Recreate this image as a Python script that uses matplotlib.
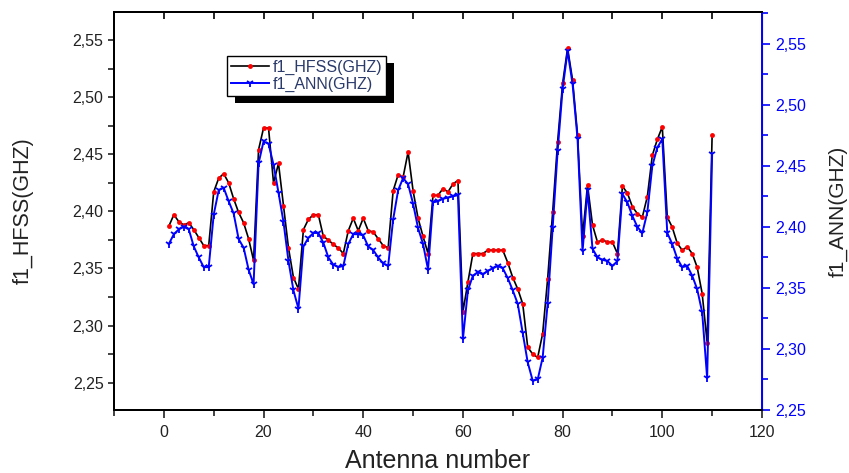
import numpy as np
import matplotlib
matplotlib.use('Agg')
import matplotlib.pyplot as plt
from matplotlib.ticker import MultipleLocator, FuncFormatter
from matplotlib.patches import Rectangle

plt.rcParams['font.family'] = ['Liberation Sans', 'DejaVu Sans']

antenna = np.arange(1, 111)

f1_hfss = [2.387, 2.397, 2.391, 2.388, 2.390, 2.384, 2.377, 2.370, 2.370, 2.417,
           2.429, 2.433, 2.425, 2.411, 2.399, 2.390, 2.376, 2.357, 2.454, 2.473,
           2.473, 2.425, 2.442, 2.405, 2.368, 2.342, 2.332, 2.384, 2.393, 2.397,
           2.397, 2.378, 2.375, 2.371, 2.368, 2.363, 2.383, 2.394, 2.383, 2.394,
           2.383, 2.382, 2.376, 2.370, 2.368, 2.418, 2.432, 2.430, 2.452, 2.418,
           2.394, 2.378, 2.363, 2.414, 2.414, 2.420, 2.417, 2.424, 2.427, 2.312,
           2.338, 2.363, 2.363, 2.363, 2.366, 2.366, 2.366, 2.366, 2.355, 2.342,
           2.332, 2.319, 2.281, 2.275, 2.272, 2.293, 2.341, 2.399, 2.461, 2.512,
           2.543, 2.515, 2.467, 2.378, 2.423, 2.388, 2.373, 2.375, 2.373, 2.373,
           2.363, 2.422, 2.416, 2.404, 2.398, 2.395, 2.413, 2.449, 2.463, 2.474,
           2.395, 2.386, 2.372, 2.366, 2.369, 2.363, 2.351, 2.328, 2.285, 2.467]

f1_ann = [2.386, 2.394, 2.398, 2.400, 2.398, 2.384, 2.375, 2.367, 2.367, 2.410,
          2.430, 2.432, 2.421, 2.411, 2.390, 2.383, 2.365, 2.353, 2.452, 2.470,
          2.468, 2.451, 2.428, 2.404, 2.372, 2.348, 2.333, 2.384, 2.391, 2.395,
          2.395, 2.387, 2.375, 2.369, 2.367, 2.368, 2.386, 2.394, 2.394, 2.393,
          2.384, 2.381, 2.375, 2.370, 2.368, 2.406, 2.430, 2.440, 2.435, 2.419,
          2.399, 2.386, 2.365, 2.420, 2.421, 2.423, 2.424, 2.425, 2.426, 2.308,
          2.348, 2.360, 2.363, 2.361, 2.364, 2.366, 2.368, 2.366, 2.358, 2.348,
          2.337, 2.313, 2.289, 2.274, 2.275, 2.293, 2.337, 2.399, 2.462, 2.513,
          2.544, 2.517, 2.472, 2.380, 2.430, 2.382, 2.375, 2.373, 2.372, 2.368,
          2.372, 2.427, 2.420, 2.409, 2.400, 2.395, 2.412, 2.450, 2.465, 2.472,
          2.395, 2.386, 2.374, 2.367, 2.368, 2.360, 2.349, 2.330, 2.276, 2.460]

comma = FuncFormatter(lambda v, p: f"{v:.2f}".replace('.', ','))

fig = plt.figure(figsize=(8.49, 4.73), dpi=100)
ax = fig.add_axes([0.1343, 0.1332, 0.7632, 0.8414])
ax2 = ax.twinx()

l1, = ax.plot(antenna, f1_hfss, color='black', lw=1.2, marker='o', ms=3.5,
              mfc='red', mec='red', mew=0, label='f1_HFSS(GHZ)')
l2, = ax2.plot(antenna, f1_ann, color='blue', lw=1.4, marker='1', ms=6,
               mew=1.3, label='f1_ANN(GHZ)')

ax.set_xlim(-10, 120)
ax.set_ylim(2.226, 2.5746)
ax2.set_ylim(2.25, 2.576)

ax.xaxis.set_major_locator(MultipleLocator(20))
ax.xaxis.set_minor_locator(MultipleLocator(10))
ax.yaxis.set_major_locator(MultipleLocator(0.05))
ax.yaxis.set_minor_locator(MultipleLocator(0.025))
ax.yaxis.set_major_formatter(comma)
ax2.yaxis.set_major_locator(MultipleLocator(0.05))
ax2.yaxis.set_minor_locator(MultipleLocator(0.025))
ax2.yaxis.set_major_formatter(comma)

ax.tick_params(axis='x', which='both', direction='out', labelsize=11.5,
               colors='#222222', width=1.2, pad=5)
ax.tick_params(axis='x', which='major', length=6)
ax.tick_params(axis='x', which='minor', length=4)
ax.tick_params(axis='y', which='both', direction='out', labelsize=11.5,
               colors='#222222', width=1.2, length=4)
ax2.tick_params(axis='y', which='both', direction='out', labelsize=11.5,
                colors='blue', width=1.2)
ax2.tick_params(axis='y', which='major', length=6)
ax2.tick_params(axis='y', which='minor', length=4)

# top ticks point inward in the original
sec = ax.secondary_xaxis('top')
sec.xaxis.set_major_locator(MultipleLocator(10))
sec.tick_params(axis='x', which='both', direction='in', length=5, width=1.2,
                labeltop=False)
sec.spines['top'].set_linewidth(1.4)

for s in ['left', 'bottom', 'top']:
    ax.spines[s].set_linewidth(1.4)
    ax2.spines[s].set_linewidth(1.4)
ax2.spines['right'].set_color('blue')
ax2.spines['right'].set_linewidth(1.4)

ax.set_xlabel('Antenna number', fontsize=18, color='#222222', labelpad=6)
ax.set_ylabel('f1_HFSS(GHZ)', fontsize=15.5, color='#222222', labelpad=28)
ax2.set_ylabel('f1_ANN(GHZ)', fontsize=15, color='#222222', labelpad=16)

leg = ax2.legend(handles=[l1, l2], loc='upper left', bbox_to_anchor=(0.174, 0.89),
                 fontsize=11.5, frameon=True, fancybox=False, framealpha=1,
                 edgecolor='black', handlelength=2.4, handletextpad=0.2,
                 borderpad=0.25, labelspacing=0.1, borderaxespad=0)
leg.get_frame().set_linewidth(1.0)
for t in leg.get_texts():
    t.set_color('#2a3a6a')

fig.canvas.draw()
bb = leg.get_window_extent()
shadow = Rectangle((bb.x0 + 8, bb.y0 - 7), bb.width, bb.height, transform=None,
                   facecolor='black', edgecolor='none', zorder=leg.get_zorder() - 0.1)
ax2.add_patch(shadow)

fig.savefig('out.png', dpi=100)
